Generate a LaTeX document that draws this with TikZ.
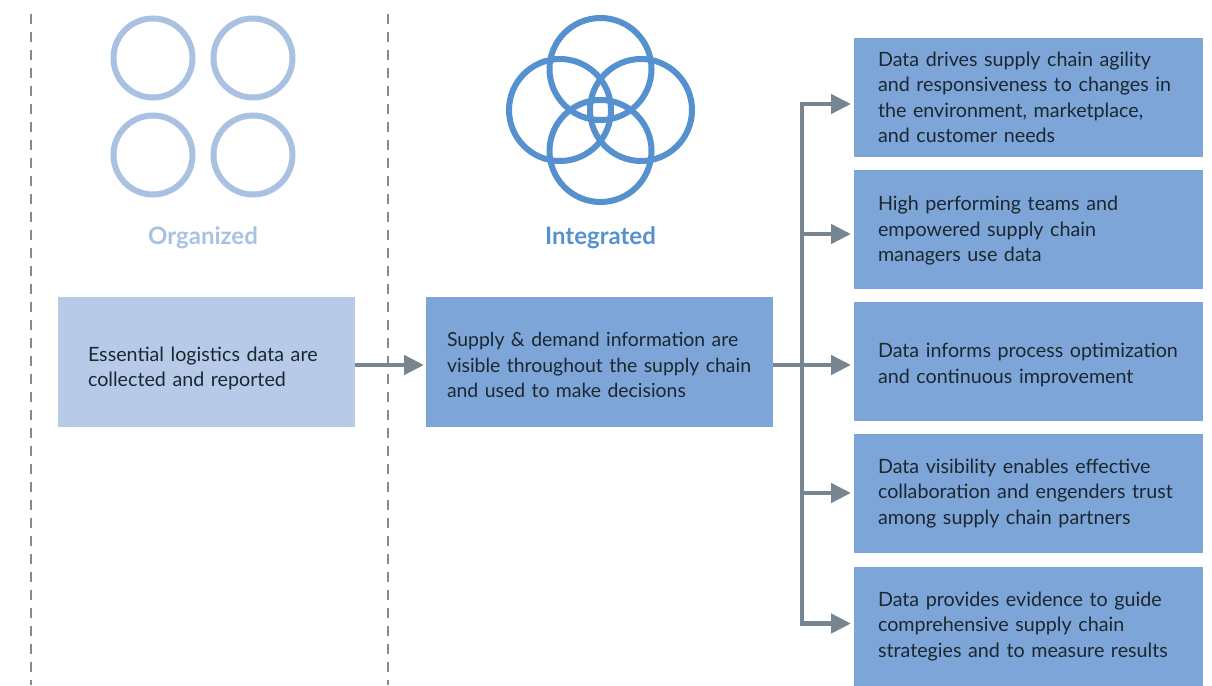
\documentclass[tikz,border=0pt]{standalone}
\usepackage{fontspec}
\setmainfont{Lato}
\usetikzlibrary{arrows.meta}
\definecolor{paleblue}{HTML}{B7CBE9}
\definecolor{midblue}{HTML}{7DA5D8}
\definecolor{palering}{HTML}{A9C2E4}
\definecolor{midring}{HTML}{5591CF}
\definecolor{flowgrey}{HTML}{76858F}
\definecolor{dashgrey}{HTML}{7F8C99}
\definecolor{bodyink}{HTML}{1C2730}
\tikzset{nudge/.style={execute at begin node={\rule{0pt}{#1}}}}
\tikzstyle{mydiagramstyle}=[
    x=1pt, y=-1pt,
    >={Triangle[length=20pt,width=19pt]},
    every node/.style={
        inner sep=0pt,
        outer sep=0pt,
    },
    flow/.style={->, draw=flowgrey, line width=4.5pt},
    divider/.style={draw=dashgrey, line width=2pt, dash pattern=on 10pt off 8pt},
    palecircle/.style={circle, draw=palering, line width=6pt, minimum size=79pt},
    midcircle/.style={circle, draw=midring, line width=6pt, minimum size=102pt},
    heading/.style={font=\fontsize{24}{28}\selectfont\bfseries},
    textbox/.style={
        anchor=north west,
        text=bodyink,
        align=left,
        font=\fontsize{19.7}{25.5}\selectfont,
    },
    outcome/.style={
        textbox,
        fill=midblue,
        minimum width=349pt,
        minimum height=119pt,
        text width=301pt,
        inner xsep=24pt,
    },
]

\begin{document}
\begin{tikzpicture}[mydiagramstyle]
        \useasboundingbox (0,0) rectangle (1212,685);
        \coordinate (dividera top) at (31,14);
        \coordinate (dividera bottom) at (31,685);
        \coordinate (dividerb top) at (388,14);
        \coordinate (dividerb bottom) at (388,685);
        \draw [divider] (dividera top) -- (dividera bottom);
        \draw [divider] (dividerb top) -- (dividerb bottom);

        \node (ringa) at (153,58) [palecircle] {};
        \node (ringb) at (253,58) [palecircle] {};
        \node (ringc) at (153,155) [palecircle] {};
        \node (ringd) at (253,155) [palecircle] {};
        \node (organized) at (203,238) [heading, text=palering] {Organized};

        \node (looptop) at (600.5,69) [midcircle] {};
        \node (loopleft) at (560,110) [midcircle] {};
        \node (loopright) at (641,110) [midcircle] {};
        \node (loopbottom) at (600.5,151) [midcircle] {};
        \node (integrated) at (600.5,238) [heading, text=midring] {Integrated};

        \node (logistics) at (58,297) [textbox, nudge=27pt, fill=paleblue, minimum width=297pt, minimum height=130pt, text width=237pt, inner xsep=30pt] {Essential logistics data are\\collected and reported};
        \node (supply) at (426,297) [textbox, nudge=21pt, font=\fontsize{19.4}{25.5}\selectfont, fill=midblue, minimum width=347pt, minimum height=130pt, text width=305pt, inner xsep=21pt] {Supply \& demand information are\\visible throughout the supply chain\\and used to make decisions};

        \node (agility) at (854,38) [outcome] {Data drives supply chain agility\\and responsiveness to changes in\\the environment, marketplace,\\and customer needs};
        \node (teams) at (854,170) [outcome, nudge=17pt] {High performing teams and\\empowered supply chain\\managers use data};
        \node (process) at (854,302) [outcome, nudge=21pt] {Data informs process optimization\\and continuous improvement};
        \node (trust) at (854,434) [outcome] {Data visibility enables effective\\collaboration and engenders trust\\among supply chain partners};
        \node (evidence) at (854,567) [outcome] {Data provides evidence to guide\\comprehensive supply chain\\strategies and to measure results};

        \coordinate (junction) at (802,365);
        \draw [flow, shorten >=2pt] ([yshift=-3pt]logistics.east) -- ([yshift=-3pt]supply.west);
        \draw [flow, shorten >=3pt] ([yshift=-3pt]supply.east) -- ([yshift=-3.5pt]process.west);
        \draw [flow, shorten >=3pt] (junction) |- ([yshift=-6.5pt]agility.west);
        \draw [flow, shorten >=3pt] (junction) |- ([yshift=-4.5pt]teams.west);
        \draw [flow, shorten >=3pt] (junction) |- ([yshift=0.5pt]trust.west);
        \draw [flow, shorten >=3pt] (junction) |- ([yshift=3pt]evidence.west);
    \end{tikzpicture}
\end{document}
